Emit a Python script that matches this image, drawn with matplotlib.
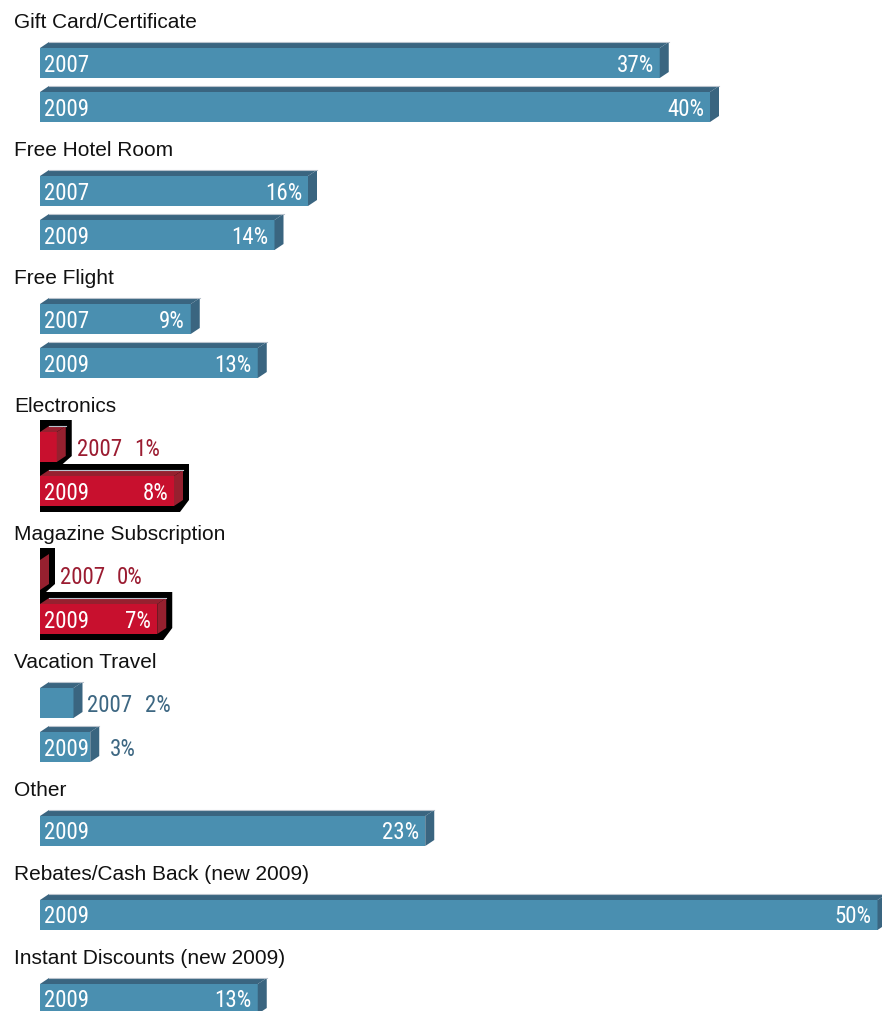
import os
import numpy as np
import matplotlib
matplotlib.use("Agg")
import matplotlib.pyplot as plt
from matplotlib import font_manager
from matplotlib.patches import Polygon

categories = ['Gift Card/Certificate', 'Free Hotel Room', 'Free Flight', 'Electronics',
              'Magazine Subscription', 'Vacation Travel', 'Other',
              'Rebates/Cash Back (new 2009)', 'Instant Discounts (new 2009)']
share_2007 = [37, 16, 9, 1, 0, 2, None, None, None]
share_2009 = [40, 14, 13, 8, 7, 3, 23, 50, 13]
highlighted = ['Electronics', 'Magazine Subscription']

W, H = 882, 1012
S = 16.75          # pixels per percent
X0 = 40            # pixel position of 0 %
DX = 9 / S         # depth of the 3d offset, in percent
DY = 6             # depth of the 3d offset, pixels
HALF = 15          # half height of the front face, pixels

BLUE = '#4a8fb0'
BLUE_DK = '#3a6580'
BLUE_TXT = '#3d6782'
RED = '#c8102e'
RED_DK = '#96202f'
RED_TXT = '#9b1c31'


# look for a condensed face for the bar labels
def find_condensed():
    bad = ('bold', 'italic', 'oblique', 'light', 'semi', 'extra', 'black', 'thin', 'medium', 'heavy')
    found = {}
    for f in font_manager.fontManager.ttflist:
        fn = os.path.basename(f.fname).lower()
        if not ('narrow' in fn or 'condensed' in fn or 'cond' in fn):
            continue
        if any(b in fn for b in bad):
            continue
        found[fn] = f.fname
    for key in ('liberationsansnarrow', 'robotocondensed', 'notosans-condensed', 'opensans_condensed',
                'opensans-condensed', 'dejavusanscondensed'):
        for fn, path in found.items():
            if fn.replace(' ', '').startswith(key):
                return path
    return next(iter(found.values()), None)


cond_path = find_condensed()
TITLE_FONT = dict(family=['Liberation Sans', 'DejaVu Sans'], size=15)
if cond_path:
    LABEL_FONT = dict(fontproperties=font_manager.FontProperties(fname=cond_path, size=16.5))
else:
    LABEL_FONT = dict(family=['Liberation Sans', 'DejaVu Sans'], size=14)

fig = plt.figure(figsize=(W / 100, H / 100), dpi=100)
ax = fig.add_axes([0, 0, 1, 1])
ax.set_xlim(-X0 / S, (W - X0) / S)
ax.set_ylim(H, 0)
ax.axis('off')


def draw_bar(yc, val, face, dark):
    top = yc - HALF
    bot = yc + HALF
    ax.add_patch(Polygon([(0, top), (val, top), (val, bot), (0, bot)],
                         closed=True, fc=face, ec='none', zorder=3))
    ax.add_patch(Polygon([(0, top), (DX, top - DY), (val + DX, top - DY), (val, top)],
                         closed=True, fc=dark, ec='none', zorder=3))
    ax.add_patch(Polygon([(val, top), (val + DX, top - DY), (val + DX, bot - DY), (val, bot)],
                         closed=True, fc=dark, ec='none', zorder=3))
    ax.plot([DX, val + DX], [top - DY, top - DY], color='#b8c2cc', lw=0.8, zorder=4)


def draw_outline(ys, vals, pad=6):
    p = pad / S
    pts = [(0, ys[0] - HALF - DY - pad)]
    for i, (yc, v) in enumerate(zip(ys, vals)):
        if i > 0:
            pts.append((vals[i - 1] + p, yc - HALF - DY - pad))
        pts.append((v + DX + p, yc - HALF - DY - pad))
        pts.append((v + DX + p, yc + HALF - DY))
        if i == len(ys) - 1:
            pts.append((v + p, yc + HALF + pad))
    pts.append((0, ys[-1] + HALF + pad))
    ax.add_patch(Polygon(pts, closed=True, fc='black', ec='none', zorder=2))


c = 20
for cat, v07, v09 in zip(categories, share_2007, share_2009):
    ax.text(14 / S - X0 / S, c + 8, cat, color='#111111', va='baseline', ha='left', **TITLE_FONT)
    hot = cat in highlighted
    face, dark = (RED, RED_DK) if hot else (BLUE, BLUE_DK)
    txt_out = RED_TXT if hot else BLUE_TXT
    bars = [(y, v) for y, v in (('2007', v07), ('2009', v09)) if v is not None]
    ys = [c + 44 + 44 * i for i in range(len(bars))]
    if hot:
        draw_outline(ys, [v for _, v in bars])
    for yc, (year, v) in zip(ys, bars):
        draw_bar(yc, v, face, dark)
        base = yc + 7.5
        end = v + DX + (6 / S if hot else 0)
        if v >= 3:
            ax.text(4 / S, base, year, color='white', va='baseline', ha='left', zorder=5, **LABEL_FONT)
        else:
            ax.text(end + 5 / S, base, year, color=txt_out, va='baseline', ha='left', zorder=5, **LABEL_FONT)
        if v >= 5:
            ax.text(v - 6 / S, base, f'{v}%', color='white', va='baseline', ha='right', zorder=5, **LABEL_FONT)
        elif v >= 3:
            ax.text(end + 11 / S, base, f'{v}%', color=txt_out, va='baseline', ha='left', zorder=5, **LABEL_FONT)
        else:
            ax.text(end + 62 / S, base, f'{v}%', color=txt_out, va='baseline', ha='left', zorder=5, **LABEL_FONT)
    c = ys[-1] + 40

fig.savefig('out.png', dpi=100)
